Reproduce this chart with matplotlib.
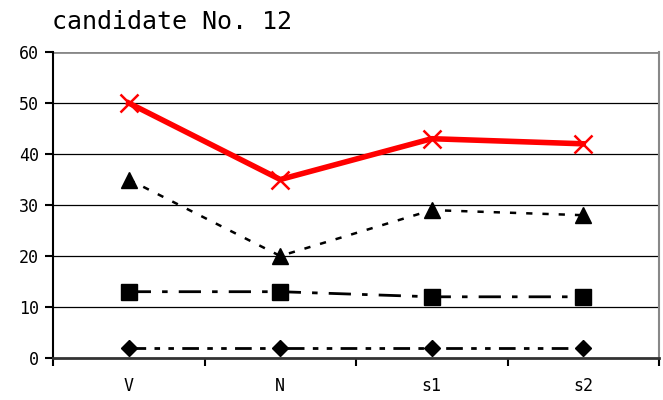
import matplotlib.pyplot as plt
import numpy as np

categories = ['V', 'N', 's1', 's2']
red_x = [50, 35, 43, 42]
triangles = [35, 20, 29, 28]
squares = [13, 13, 12, 12]
diamonds = [2, 2, 2, 2]

plt.rcParams['font.family'] = 'DejaVu Sans Mono'

fig = plt.figure(figsize=(6.63, 4.0), dpi=100)
ax = fig.add_axes([53/663, 1 - 358/400, 606/663, 306/400])

x = np.arange(len(categories))

ax.plot(x, diamonds, color='black', lw=2, marker='D', ms=8,
        dashes=(6, 3, 2, 3, 2, 3), zorder=3)
ax.plot(x, squares, color='black', lw=2, marker='s', ms=11,
        dashes=(8, 4, 2, 4), zorder=3)
ax.plot(x, triangles, color='black', lw=1.8, marker='^', ms=11,
        dashes=(2.5, 4), zorder=3)
ax.plot(x, red_x, color='#ff0000', lw=4, marker='x', ms=13, mew=1.8, zorder=4)

ax.set_xlim(-0.5, len(categories) - 0.5)
ax.set_ylim(0, 60)
ax.set_yticks(range(0, 61, 10))
ax.set_xticks(x)
ax.set_xticklabels(categories)
ax.set_xticks(np.arange(-0.5, len(categories)), minor=True)
ax.tick_params(axis='x', which='major', length=0, pad=14, labelsize=12)
ax.tick_params(axis='x', which='minor', length=6, width=1.5, direction='out')
ax.tick_params(axis='y', length=6, width=1.5, labelsize=12, pad=4)

for v in range(10, 60, 10):
    ax.axhline(v, color='black', lw=0.9, zorder=1)
ax.axhline(60, color='#888888', lw=2, zorder=1)

ax.spines['left'].set_linewidth(1.5)
ax.spines['bottom'].set_linewidth(2)
ax.spines['bottom'].set_color('#333333')
ax.spines['right'].set_color('#888888')
ax.spines['right'].set_linewidth(1.5)
ax.spines['top'].set_visible(False)

fig.text(52/663, 1 - 22/400, 'candidate No. 12', fontsize=18, va='center', ha='left')

fig.savefig('out.png', dpi=100)
